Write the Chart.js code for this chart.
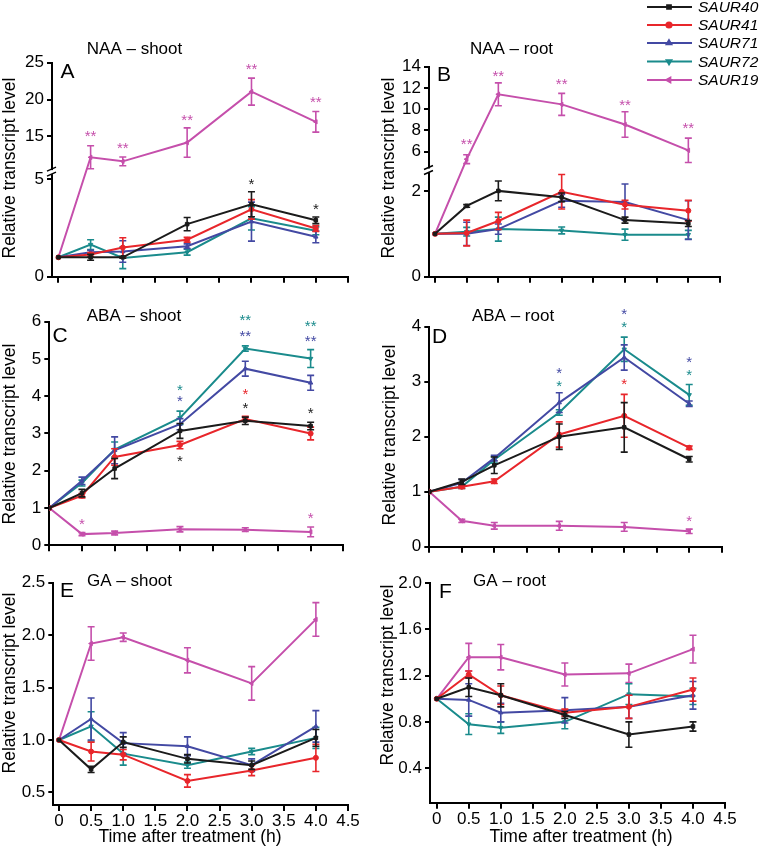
<!DOCTYPE html>
<html>
<head>
<meta charset="utf-8">
<script src="https://cdn.jsdelivr.net/npm/chart.js@4/dist/chart.umd.min.js"></script>
<style>
  body { margin: 0; background: #fff; }
  #fig { position: relative; width: 762px; height: 850px; overflow: hidden; }
  #fig canvas { position: absolute; }
</style>
</head>
<body>
<div id="fig"></div>
<script>
// ---- data ----
const times = [0, 0.5, 1, 2, 3, 4];
const genes = ['SAUR40', 'SAUR41', 'SAUR71', 'SAUR72', 'SAUR19'];
const xTicks = [0, 0.5, 1, 1.5, 2, 2.5, 3, 3.5, 4, 4.5];
const xTickLabels = ['0', '0.5', '1.0', '1.5', '2.0', '2.5', '3.0', '3.5', '4.0', '4.5'];

// NAA - shoot (A)
const naaShootMean = [
  [1, 1.0, 1.0, 2.7, 3.72, 2.9],
  [1, 1.14, 1.5, 1.9, 3.46, 2.48],
  [1, 1.26, 1.3, 1.57, 2.83, 2.05],
  [1, 1.65, 0.97, 1.26, 3.0, 2.36],
  [1, 12.15, 11.6, 14.15, 21.07, 16.97]
];
const naaShootErr = [
  [0, 0.15, 0.05, 0.34, 0.64, 0.17],
  [0, 0.1, 0.5, 0.12, 0.5, 0.15],
  [0, 0.1, 0.55, 0.12, 1.0, 0.3],
  [0, 0.25, 0.55, 0.15, 0.6, 0.2],
  [0, 1.56, 0.6, 2.0, 1.83, 1.4]
];
const naaShootTicks = [0, 5, 15, 20, 25];
// [gene index, time, level, text]
const naaShootStars = [
  [4, 0.5, 15.5, '**'], [4, 1, 13.9, '**'], [4, 2, 17.7, '**'], [4, 3, 24.6, '**'], [4, 4, 20.1, '**'],
  [0, 3, 4.96, '*'], [0, 4, 3.66, '*']
];

// NAA - root (B)
const naaRootMean = [
  [1, 1.65, 2.0, 1.85, 1.32, 1.24],
  [1, 1.02, 1.3, 1.98, 1.68, 1.54],
  [1, 1.0, 1.11, 1.77, 1.74, 1.32],
  [1, 1.05, 1.11, 1.08, 0.98, 0.98],
  [1, 5.29, 11.4, 10.45, 8.55, 6.12]
];
const naaRootErr = [
  [0, 0.03, 0.23, 0.1, 0.07, 0.07],
  [0, 0.3, 0.2, 0.4, 0.1, 0.24],
  [0, 0.27, 0.12, 0.15, 0.42, 0.45],
  [0, 0.1, 0.28, 0.08, 0.13, 0.1],
  [0, 0.42, 1.08, 1.04, 1.2, 1.15]
];
const naaRootTicks = [0, 2, 6, 8, 10, 12, 14];
const naaRootStars = [
  [4, 0.5, 7.04, '**'], [4, 1, 13.5, '**'], [4, 2, 12.66, '**'], [4, 3, 10.76, '**'], [4, 4, 8.52, '**']
];

// ABA - shoot (C)
const abaShootMean = [
  [1, 1.4, 2.06, 3.07, 3.34, 3.2],
  [1, 1.33, 2.37, 2.69, 3.39, 3.0],
  [1, 1.73, 2.55, 3.25, 4.74, 4.36],
  [1, 1.67, 2.57, 3.42, 5.28, 5.01],
  [1, 0.3, 0.33, 0.43, 0.42, 0.36]
];
const abaShootErr = [
  [0, 0.1, 0.27, 0.2, 0.1, 0.1],
  [0, 0.06, 0.22, 0.1, 0.07, 0.17],
  [0, 0.1, 0.36, 0.15, 0.2, 0.2],
  [0, 0.08, 0.2, 0.18, 0.07, 0.24],
  [0, 0.04, 0.05, 0.07, 0.05, 0.13]
];
const abaShootTicks = [0, 1, 2, 3, 4, 5, 6];
const abaShootStars = [
  [4, 0.5, 0.67, '*'], [4, 4, 0.83, '*'],
  [0, 2, 2.35, '*'], [2, 2, 3.97, '*'], [3, 2, 4.25, '*'],
  [3, 3, 6.13, '**'], [2, 3, 5.71, '**'], [1, 3, 4.15, '*'], [0, 3, 3.79, '*'],
  [3, 4, 5.97, '**'], [2, 4, 5.57, '**'], [0, 4, 3.64, '*']
];

// ABA - root (D)
const abaRootMean = [
  [1, 1.18, 1.48, 2.0, 2.17, 1.59],
  [1, 1.09, 1.19, 2.04, 2.38, 1.8],
  [1, 1.16, 1.61, 2.62, 3.44, 2.6],
  [1, 1.09, 1.58, 2.44, 3.59, 2.76],
  [1, 0.47, 0.38, 0.38, 0.36, 0.28]
];
const abaRootErr = [
  [0, 0.05, 0.15, 0.23, 0.45, 0.05],
  [0, 0.03, 0.04, 0.23, 0.39, 0.03],
  [0, 0.06, 0.05, 0.18, 0.23, 0.05],
  [0, 0.03, 0.06, 0.05, 0.22, 0.19],
  [0, 0.03, 0.06, 0.08, 0.08, 0.04]
];
const abaRootTicks = [0, 1, 2, 3, 4];
const abaRootStars = [
  [2, 2, 3.23, '*'], [3, 2, 2.99, '*'],
  [2, 3, 4.29, '*'], [3, 3, 4.05, '*'], [1, 3, 3.03, '*'],
  [2, 4, 3.42, '*'], [3, 4, 3.18, '*'], [4, 4, 0.53, '*']
];

// GA - shoot (E)
const gaShootMean = [
  [1, 0.72, 0.98, 0.82, 0.76, 1.02],
  [1, 0.89, 0.86, 0.61, 0.71, 0.83],
  [1, 1.2, 0.97, 0.94, 0.76, 1.13],
  [1, 1.13, 0.87, 0.76, 0.89, 1.02],
  [1, 1.92, 1.98, 1.76, 1.54, 2.15]
];
const gaShootErr = [
  [0, 0.03, 0.05, 0.04, 0.04, 0.08],
  [0, 0.09, 0.05, 0.06, 0.05, 0.13],
  [0, 0.2, 0.1, 0.09, 0.06, 0.15],
  [0, 0.14, 0.11, 0.03, 0.03, 0.1],
  [0, 0.16, 0.04, 0.12, 0.16, 0.16]
];
const gaShootTicks = [0.5, 1.0, 1.5, 2.0, 2.5];
const gaShootTickLabels = ['0.5', '1.0', '1.5', '2.0', '2.5'];

// GA - root (F)
const gaRootMean = [
  [1, 1.1, 1.03, 0.86, 0.69, 0.76],
  [1, 1.21, 1.03, 0.88, 0.93, 1.08],
  [1, 0.99, 0.88, 0.9, 0.93, 1.03],
  [1, 0.78, 0.75, 0.8, 1.04, 1.02],
  [1, 1.36, 1.36, 1.21, 1.22, 1.43]
];
const gaRootErr = [
  [0, 0.08, 0.1, 0.03, 0.11, 0.04],
  [0, 0.03, 0.08, 0.03, 0.1, 0.1],
  [0, 0.14, 0.08, 0.11, 0.1, 0.12],
  [0, 0.09, 0.05, 0.06, 0.09, 0.07],
  [0, 0.12, 0.11, 0.1, 0.08, 0.12]
];
const gaRootTicks = [0.4, 0.8, 1.2, 1.6, 2.0];
const gaRootTickLabels = ['0.4', '0.8', '1.2', '1.6', '2.0'];

// ---- styles ----
const FONT = 'Liberation Sans, Arial, sans-serif';
const colors = ['#1b1b1b', '#e8262b', '#4349a3', '#1a8b8c', '#c54fab'];
const pointStyles = ['rect', 'circle', 'triangle', 'triangle', 'triangle'];
const pointRotations = [0, 0, 0, 180, 270];

Chart.defaults.font.family = FONT;
Chart.defaults.color = '#000';

// linear scale with a gap (for the broken y axes of A and B)
class BrokenScale extends Chart.LinearScale {
  getPixelForValue(value) {
    const b = this.options.brk;
    if (!b) return super.getPixelForValue(value);
    const split = this.bottom - (this.bottom - this.top) * b.frac;
    if (value <= b.low) return this.bottom - (value - this.min) / (b.low - this.min) * (this.bottom - split);
    if (value >= b.high) return split - (value - b.high) / (this.max - b.high) * (split - this.top);
    return split;
  }
  getValueForPixel(pixel) {
    const b = this.options.brk;
    if (!b) return super.getValueForPixel(pixel);
    const split = this.bottom - (this.bottom - this.top) * b.frac;
    if (pixel >= split) return this.min + (this.bottom - pixel) / (this.bottom - split) * (b.low - this.min);
    return b.high + (split - pixel) / (split - this.top) * (this.max - b.high);
  }
}
BrokenScale.id = 'broken';
BrokenScale.defaults = Chart.LinearScale.defaults;
Chart.register(BrokenScale);

function marker(ctx, pt, style, rot, r) {
  if (Chart.helpers && Chart.helpers.drawPoint) {
    Chart.helpers.drawPoint(ctx, {pointStyle: style, rotation: rot, radius: r, borderWidth: 1}, pt[0], pt[1]);
  }
}

const errorBars = {
  id: 'errorBars',
  afterDatasetDraw(chart, args) {
    const ds = chart.data.datasets[args.index];
    if (!ds.errors) return;
    const ys = chart.scales.y;
    const ctx = chart.ctx;
    ctx.save();
    ctx.strokeStyle = ds.borderColor;
    ctx.lineWidth = 1.6;
    args.meta.data.forEach((p, j) => {
      const e = ds.errors[j];
      if (!e) return;
      const v = ds.data[j].y;
      const y1 = ys.getPixelForValue(v + e);
      const y2 = ys.getPixelForValue(v - e);
      ctx.beginPath();
      ctx.moveTo(p.x, y1); ctx.lineTo(p.x, y2);
      ctx.moveTo(p.x - 3.5, y1); ctx.lineTo(p.x + 3.5, y1);
      ctx.moveTo(p.x - 3.5, y2); ctx.lineTo(p.x + 3.5, y2);
      ctx.stroke();
    });
    ctx.restore();
  }
};

const decor = {
  id: 'decor',
  afterDraw(chart, args, o) {
    const ctx = chart.ctx;
    const ox = o.cell.x, oy = o.cell.y;
    const xs = chart.scales.x, ys = chart.scales.y;
    ctx.save();
    ctx.fillStyle = '#000';
    ctx.textAlign = 'center';
    ctx.textBaseline = 'middle';
    ctx.font = '17px ' + FONT;
    ctx.fillText(o.title, o.titlePos[0] - ox, o.titlePos[1] - oy);
    ctx.font = '17.5px ' + FONT;
    if (o.xTitlePos) ctx.fillText('Time after treatment (h)', o.xTitlePos[0] - ox, o.xTitlePos[1] - oy);
    ctx.save();
    ctx.translate(o.yTitlePos[0] - ox, o.yTitlePos[1] - oy);
    ctx.rotate(-Math.PI / 2);
    ctx.fillText('Relative transcript level', 0, 0);
    ctx.restore();
    ctx.font = '21px ' + FONT;
    ctx.fillText(o.letter, o.letterPos[0] - ox, o.letterPos[1] - oy);

    // axis break
    const b = ys.options.brk;
    if (b) {
      const py = ys.getPixelForValue(b.low);
      const ax = chart.chartArea.left;
      ctx.fillStyle = '#fff';
      ctx.fillRect(ax - 3, py - 2, 6, 4);
      ctx.strokeStyle = '#000';
      ctx.lineWidth = 1.4;
      ctx.beginPath();
      ctx.moveTo(ax - 5, py - 1); ctx.lineTo(ax + 4, py - 5);
      ctx.moveTo(ax - 5, py + 4); ctx.lineTo(ax + 4, py);
      ctx.stroke();
    }

    // significance stars
    ctx.font = '15px ' + FONT;
    ctx.textBaseline = 'alphabetic';
    (o.stars || []).forEach(s => {
      ctx.fillStyle = colors[s[0]];
      ctx.fillText(s[3], xs.getPixelForValue(s[1]), ys.getPixelForValue(s[2]) + 8.5);
    });

    // legend
    if (o.legend) {
      const rows = [7, 25, 43, 61.5, 80];
      genes.forEach((g, i) => {
        const y = rows[i] - oy;
        ctx.strokeStyle = colors[i];
        ctx.fillStyle = colors[i];
        ctx.lineWidth = 2.2;
        ctx.beginPath();
        ctx.moveTo(647 - ox, y); ctx.lineTo(692 - ox, y);
        ctx.stroke();
        marker(ctx, [669 - ox, y], pointStyles[i], pointRotations[i], 2.5);
        ctx.fillStyle = '#000';
        ctx.font = 'italic 15.5px ' + FONT;
        ctx.textAlign = 'left';
        ctx.textBaseline = 'middle';
        ctx.fillText(g, 698 - ox, y + 1);
      });
    }
    ctx.restore();
  }
};

const panels = [
  {cell: {x: 0, y: 0, w: 380, h: 290}, area: {l: 52, t: 62.7, r: 348, b: 278},
   xMin: -0.1, yMin: 0, yMax: 25, brk: {low: 5.37, high: 10.14, frac: 0.489},
   yTicks: naaShootTicks, yLabels: naaShootTicks.map(String), mean: naaShootMean, err: naaShootErr, stars: naaShootStars,
   title: 'NAA – shoot', titlePos: [134.5, 49], letter: 'A', letterPos: [67.5, 72.5], yTitlePos: [10, 168]},
  {cell: {x: 380, y: 0, w: 382, h: 290}, area: {l: 429, t: 66.7, r: 720, b: 282.7},
   xMin: -0.095, yMin: 0, yMax: 14, brk: {low: 2.475, high: 4.22, frac: 0.506},
   yTicks: naaRootTicks, yLabels: naaRootTicks.map(String), mean: naaRootMean, err: naaRootErr, stars: naaRootStars,
   title: 'NAA – root', titlePos: [511.5, 49], letter: 'B', letterPos: [444, 75.5], yTitlePos: [389, 168], legend: true},
  {cell: {x: 0, y: 290, w: 380, h: 270}, area: {l: 49.3, t: 321.7, r: 343.3, b: 545.3},
   xMin: 0, yMin: 0, yMax: 6,
   yTicks: abaShootTicks, yLabels: abaShootTicks.map(String), mean: abaShootMean, err: abaShootErr, stars: abaShootStars,
   title: 'ABA – shoot', titlePos: [134, 316], letter: 'C', letterPos: [60, 336.5], yTitlePos: [10, 434]},
  {cell: {x: 380, y: 290, w: 382, h: 270}, area: {l: 429.3, t: 326.7, r: 721.7, b: 546.7},
   xMin: 0, yMin: 0, yMax: 4,
   yTicks: abaRootTicks, yLabels: abaRootTicks.map(String), mean: abaRootMean, err: abaRootErr, stars: abaRootStars,
   title: 'ABA – root', titlePos: [513, 316], letter: 'D', letterPos: [439.5, 337], yTitlePos: [390, 435]},
  {cell: {x: 0, y: 560, w: 380, h: 290}, area: {l: 53.3, t: 582.7, r: 348, b: 805},
   xMin: -0.089, yMin: 0.38, yMax: 2.5, showX: true,
   yTicks: gaShootTicks, yLabels: gaShootTickLabels, mean: gaShootMean, err: gaShootErr, stars: [],
   title: 'GA – shoot', titlePos: [129.5, 581], letter: 'E', letterPos: [67, 591.5], yTitlePos: [10, 683], xTitlePos: [190, 837]},
  {cell: {x: 380, y: 560, w: 382, h: 290}, area: {l: 430, t: 583.3, r: 725, b: 802.7},
   xMin: -0.105, yMin: 0.1, yMax: 2.0, showX: true,
   yTicks: gaRootTicks, yLabels: gaRootTickLabels, mean: gaRootMean, err: gaRootErr, stars: [],
   title: 'GA – root', titlePos: [509.5, 581], letter: 'F', letterPos: [445.5, 592], yTitlePos: [388, 675], xTitlePos: [581, 837]}
];

function makePanel(p) {
  const canvas = document.createElement('canvas');
  canvas.style.left = p.cell.x + 'px';
  canvas.style.top = p.cell.y + 'px';
  document.getElementById('fig').appendChild(canvas);
  canvas.width = p.cell.w;
  canvas.height = p.cell.h;

  const datasets = genes.map((g, i) => ({
    label: g,
    data: times.map((t, j) => ({x: t, y: p.mean[i][j]})),
    errors: p.err[i],
    borderColor: colors[i],
    backgroundColor: colors[i],
    pointStyle: pointStyles[i],
    pointRotation: pointRotations[i],
    pointRadius: 2.5,
    pointBorderWidth: 1,
    borderWidth: 2,
    tension: 0
  }));

  const axisGrid = {drawOnChartArea: false, drawTicks: true, color: '#000', lineWidth: 2};

  return new Chart(canvas, {
    type: 'line',
    data: {datasets: datasets},
    options: {
      responsive: false,
      animation: false,
      devicePixelRatio: 1,
      layout: {padding: {left: 0, bottom: 0, top: p.area.t - p.cell.y, right: p.cell.x + p.cell.w - p.area.r}},
      plugins: {
        legend: {display: false},
        tooltip: {enabled: false},
        decor: p
      },
      scales: {
        x: {
          type: 'linear', min: p.xMin, max: 4.5,
          afterBuildTicks: s => { s.ticks = xTicks.map(v => ({value: v})); },
          afterFit: s => { s.height = p.cell.y + p.cell.h - p.area.b; },
          ticks: {display: !!p.showX, autoSkip: false, maxRotation: 0, padding: 0,
                  font: {size: 17}, color: '#000', callback: (v, i) => xTickLabels[i]},
          grid: Object.assign({tickLength: 6}, axisGrid),
          border: {color: '#000', width: 2}
        },
        y: {
          type: p.brk ? 'broken' : 'linear', min: p.yMin, max: p.yMax, brk: p.brk,
          afterBuildTicks: s => { s.ticks = p.yTicks.map(v => ({value: v})); },
          afterFit: s => { s.width = p.area.l - p.cell.x; },
          ticks: {autoSkip: false, padding: 3, font: {size: 17}, color: '#000',
                  callback: (v, i) => p.yLabels[i]},
          grid: Object.assign({tickLength: 5}, axisGrid),
          border: {color: '#000', width: 2}
        }
      }
    },
    plugins: [errorBars, decor]
  });
}

panels.forEach(makePanel);
</script>
</body>
</html>
